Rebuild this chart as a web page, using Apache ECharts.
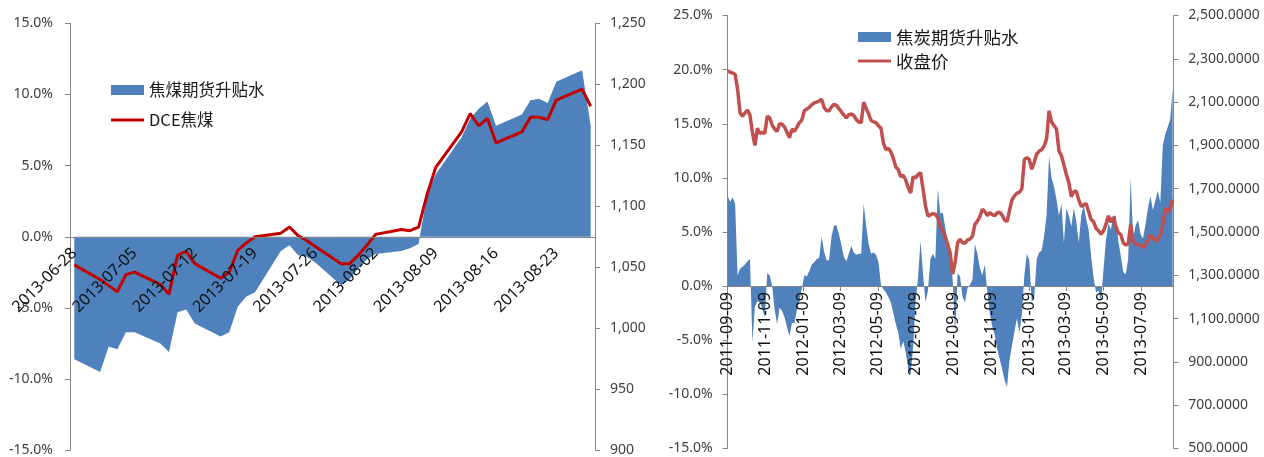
<!DOCTYPE html>
<html>
<head>
<meta charset="utf-8">
<script src="https://cdn.jsdelivr.net/npm/echarts@6/dist/echarts.min.js"></script>
<style>
  html, body { margin: 0; padding: 0; background: #ffffff; }
  #chart { width: 1264px; height: 457px; }
</style>
</head>
<body>
<div id="chart"></div>
<script>
// ---------- 焦煤: daily basis (%) and DCE price, trading days only ----------
const cokingCoalDates = [
  '2013-06-28',
  '2013-07-01', '2013-07-02', '2013-07-03', '2013-07-04', '2013-07-05',
  '2013-07-08', '2013-07-09', '2013-07-10', '2013-07-11', '2013-07-12',
  '2013-07-15', '2013-07-16', '2013-07-17', '2013-07-18', '2013-07-19',
  '2013-07-22', '2013-07-23', '2013-07-24', '2013-07-25', '2013-07-26',
  '2013-07-29', '2013-07-30', '2013-07-31', '2013-08-01', '2013-08-02',
  '2013-08-05', '2013-08-06', '2013-08-07', '2013-08-08', '2013-08-09',
  '2013-08-12', '2013-08-13', '2013-08-14', '2013-08-15', '2013-08-16',
  '2013-08-19', '2013-08-20', '2013-08-21', '2013-08-22', '2013-08-23',
  '2013-08-26', '2013-08-27'
];
const cokingCoalSpread = [
  -8.6,
  -9.5, -7.7, -7.9, -6.7, -6.7,
  -7.5, -8.1, -5.3, -5.1, -6.1,
  -7.0, -6.7, -4.9, -4.2, -3.9,
  -1.0, -0.6, -1.3, -1.4, -1.8,
  -3.4, -3.0, -2.2, -1.6, -1.2,
  -1.0, -0.8, -0.5, 3.0, 4.4,
  7.0, 8.3, 9.0, 9.5, 7.8,
  8.6, 9.6, 9.7, 9.4, 10.9,
  11.7, 7.8
];
const dceCokingCoal = [
  1052,
  1040, 1035, 1030, 1044, 1046,
  1036, 1028, 1060, 1063, 1053,
  1041, 1046, 1064, 1070, 1075,
  1078, 1083, 1076, 1072, 1067,
  1053, 1053, 1060, 1068, 1077,
  1081, 1080, 1083, 1110, 1132,
  1161, 1176, 1166, 1172, 1152,
  1161, 1173, 1173, 1171, 1187,
  1196, 1182
];

// ---------- 焦炭: basis (%) and close price, one value every 4 calendar days ----------
const COKE_START = '2011-09-09';
const COKE_END = '2013-08-30';
const COKE_STEP_DAYS = 4;
const cokeSpread = [
  8.3, 7.8, 8.2, 7.6, 1.0, 1.6, 1.8, 2.0, 2.3, 2.5,
  -5.2, -1.9, -1.4, -1.5, -2.1, -2.9, 1.2, 1.0, 0.0, -2.2,
  -3.5, -2.0, -2.3, -2.9, -3.8, -4.6, -3.4, -3.4, -2.2, -1.4,
  -0.2, 1.0, 0.9, 1.4, 2.0, 2.2, 2.5, 2.6, 4.6, 3.2,
  2.4, 2.4, 4.6, 5.6, 5.6, 4.8, 3.8, 2.7, 2.3, 3.0,
  3.7, 3.1, 2.9, 3.0, 3.0, 7.6, 5.6, 3.9, 3.0, 3.1,
  2.9, 2.2, 0.1, -0.3, -0.6, -1.0, -1.5, -2.5, -3.5, -4.3,
  -5.8, -5.1, -6.1, -7.6, -8.2, -5.7, -1.5, 0.8, 4.2, 1.2,
  -1.5, -0.4, 2.5, 3.0, 2.5, 9.0, 6.7, 6.8, 5.4, 4.1,
  2.9, 0.6, -4.5, 1.2, 0.9, -1.0, -1.5, -0.2, 0.1, 0.6,
  3.9, 3.0, 1.7, 1.0, 2.0, -0.5, -2.5, -3.7, -4.5, -5.8,
  -6.7, -7.6, -8.7, -9.3, -6.8, -5.5, -4.2, -3.0, -4.3, -2.6,
  1.0, 3.0, 2.4, -1.5, -1.0, 2.5, 3.1, 3.3, 4.6, 6.6,
  12.0, 10.0, 9.2, 8.0, 6.5, 7.6, 4.0, 7.2, 6.5, 5.5,
  7.2, 6.0, 4.0, 6.5, 7.5, 6.2, 5.2, 2.8, 0.8, -0.6,
  -0.4, -1.4, 1.5, 4.2, 5.8, 5.2, 6.5, 6.5, 4.2, 2.8,
  1.3, 1.1, 2.5, 10.0, 4.4, 5.6, 6.1, 4.8, 4.4, 5.7,
  7.2, 8.3, 7.0, 7.9, 8.8, 7.7, 13.0, 14.0, 14.7, 15.4, 18.3
];
const cokeClose = [
  2245, 2238, 2235, 2228, 2160, 2050, 2035, 2050, 2063, 2040,
  1960, 1900, 1979, 1955, 1960, 1955, 2035, 2028, 1994, 1975,
  1965, 2000, 1998, 1985, 1960, 1935, 1975, 1965, 1985, 2005,
  2017, 2060, 2068, 2075, 2088, 2096, 2100, 2105, 2113, 2075,
  2060, 2060, 2078, 2090, 2085, 2070, 2055, 2040, 2027, 2042,
  2045, 2038, 2020, 2008, 2005, 2100, 2070, 2046, 2015, 2009,
  2005, 1990, 1980, 1910, 1880, 1887, 1870, 1840, 1800, 1788,
  1756, 1762, 1740, 1705, 1680, 1755, 1750, 1765, 1775, 1700,
  1620, 1573, 1579, 1585, 1582, 1565, 1524, 1505, 1478, 1443,
  1402, 1305, 1360, 1450, 1466, 1450, 1448, 1463, 1467, 1480,
  1535, 1550, 1570, 1605, 1595, 1576, 1590, 1580, 1575, 1588,
  1592, 1578, 1555, 1548, 1600, 1648, 1667, 1679, 1683, 1700,
  1834, 1843, 1835, 1790, 1822, 1860, 1874, 1880, 1898, 1930,
  2060, 2008, 1992, 1975, 1875, 1852, 1810, 1765, 1728, 1663,
  1686, 1690, 1648, 1618, 1625, 1632, 1594, 1558, 1548, 1517,
  1505, 1490, 1505, 1535, 1575, 1545, 1568, 1526, 1497, 1488,
  1450, 1440, 1445, 1535, 1458, 1445, 1440, 1440, 1428, 1440,
  1462, 1486, 1475, 1460, 1465, 1488, 1530, 1610, 1590, 1610, 1650
];
const cokeTickDates = [
  '2011-09-09', '2011-11-09', '2012-01-09', '2012-03-09', '2012-05-09', '2012-07-09',
  '2012-09-09', '2012-11-09', '2013-01-09', '2013-03-09', '2013-05-09', '2013-07-09'
];
const cokePriceTicks = [500, 700, 900, 1100, 1300, 1500, 1700, 1900, 2100, 2300, 2500];

// ---------- helpers ----------
const DAY = 86400000;
function dayNumber(s) {
  const [y, m, d] = s.split('-').map(Number);
  return Date.UTC(y, m - 1, d) / DAY;
}
function dateString(n) {
  const t = new Date(n * DAY);
  const p = v => String(v).padStart(2, '0');
  return t.getUTCFullYear() + '-' + p(t.getUTCMonth() + 1) + '-' + p(t.getUTCDate());
}

// calendar-day category axis for 焦煤 (weekends stay empty and are bridged)
const ccFirst = dayNumber(cokingCoalDates[0]);
const ccLast = dayNumber(cokingCoalDates[cokingCoalDates.length - 1]);
const ccCalendar = [];
for (let n = ccFirst; n <= ccLast; n++) ccCalendar.push(dateString(n));
const ccIndex = {};
cokingCoalDates.forEach((d, i) => { ccIndex[d] = i; });
const ccSpreadCal = ccCalendar.map(d => d in ccIndex ? cokingCoalSpread[ccIndex[d]] : null);
const ccPriceCal = ccCalendar.map(d => d in ccIndex ? dceCokingCoal[ccIndex[d]] : null);

// day offsets for 焦炭
const cokeStartDay = dayNumber(COKE_START);
const cokeSpan = dayNumber(COKE_END) - cokeStartDay;
const cokeSpreadData = cokeSpread.map((v, i) => [i * COKE_STEP_DAYS, v]);
const cokeCloseData = cokeClose.map((v, i) => [i * COKE_STEP_DAYS, v]);
const cokeTickOffsets = cokeTickDates.map(d => dayNumber(d) - cokeStartDay);

const NUM_FONT = 'Noto Sans';
const CJK_FONT = 'Noto Sans CJK SC';
const AXIS_GRAY = '#868686';
const BLUE = '#4F81BD';

// plot boxes of the two panels
const LEFT_BOX = { left: 70, top: 23.3, width: 525, height: 427 };
const RIGHT_BOX = { left: 727.7, top: 15.5, width: 445.6, height: 433 };
const LEFT_PCT = { min: -15, max: 15 };
const RIGHT_PCT = { min: -15, max: 25 };

// the date axis sits on the 0% line: shift it up from the bottom edge by that distance
function zeroLineOffset(box, range) {
  return -box.height * (0 - range.min) / (range.max - range.min);
}

const pct = v => v.toFixed(1) + '%';

function valueAxis(extra) {
  return Object.assign({
    type: 'value',
    splitLine: { show: false },
    axisLine: { show: true, onZero: false, lineStyle: { color: AXIS_GRAY, width: 1 } },
    axisTick: { show: true, length: 5, lineStyle: { color: AXIS_GRAY } },
    axisLabel: { color: '#404040', fontFamily: NUM_FONT, fontSize: 14 }
  }, extra);
}

function legendItem(name, iconHeight, left, top, fontSize) {
  return {
    data: [{ name: name, icon: 'rect' }],
    left: left, top: top,
    orient: 'vertical',
    itemWidth: 33, itemHeight: iconHeight,
    selectedMode: false,
    padding: 0,
    textStyle: { fontFamily: CJK_FONT, fontSize: fontSize, lineHeight: 20, color: '#1a1a1a' }
  };
}

const chart = echarts.init(document.getElementById('chart'), null, { renderer: 'canvas' });

chart.setOption({
  animation: false,
  backgroundColor: '#ffffff',
  grid: [
    Object.assign({ containLabel: false, outerBoundsMode: 'none' }, LEFT_BOX),
    Object.assign({ containLabel: false, outerBoundsMode: 'none' }, RIGHT_BOX)
  ],
  legend: [
    legendItem('焦煤期货升贴水', 10, 111, 80, 16.5),
    legendItem('DCE焦煤', 3, 111, 110, 16.5),
    legendItem('焦炭期货升贴水', 10, 858, 27, 17.5),
    legendItem('收盘价', 3, 858, 51, 17.5)
  ],
  xAxis: [
    {
      type: 'category',
      gridIndex: 0,
      z: 10,
      position: 'bottom',
      offset: zeroLineOffset(LEFT_BOX, LEFT_PCT),
      data: ccCalendar,
      boundaryGap: true,
      axisLine: { onZero: false, lineStyle: { color: AXIS_GRAY } },
      axisTick: { interval: 6, length: 5, lineStyle: { color: AXIS_GRAY } },
      axisLabel: {
        interval: 6, rotate: 45, margin: 14,
        fontFamily: NUM_FONT, fontSize: 16, color: '#111111'
      },
      splitLine: { show: false }
    },
    {
      type: 'value',
      gridIndex: 1,
      z: 10,
      position: 'bottom',
      offset: zeroLineOffset(RIGHT_BOX, RIGHT_PCT),
      min: 0, max: cokeSpan,
      splitLine: { show: false },
      axisLine: { onZero: false, lineStyle: { color: AXIS_GRAY } },
      axisTick: { length: 5, customValues: cokeTickOffsets, lineStyle: { color: AXIS_GRAY } },
      axisLabel: {
        customValues: cokeTickOffsets,
        rotate: 90, margin: 6,
        fontFamily: NUM_FONT, fontSize: 16, color: '#111111',
        formatter: v => dateString(cokeStartDay + Math.round(v))
      }
    }
  ],
  yAxis: [
    valueAxis({
      gridIndex: 0, position: 'left', min: LEFT_PCT.min, max: LEFT_PCT.max, interval: 5,
      axisLabel: { formatter: pct, margin: 17, color: '#404040', fontFamily: NUM_FONT, fontSize: 14 }
    }),
    valueAxis({
      gridIndex: 0, position: 'right', min: 900, max: 1250, interval: 50,
      axisLabel: {
        formatter: v => v.toLocaleString('en-US'),
        margin: 15, color: '#404040', fontFamily: NUM_FONT, fontSize: 14
      }
    }),
    valueAxis({
      gridIndex: 1, position: 'left', min: RIGHT_PCT.min, max: RIGHT_PCT.max, interval: 5,
      axisLabel: { formatter: pct, margin: 15, color: '#404040', fontFamily: NUM_FONT, fontSize: 14 }
    }),
    valueAxis({
      gridIndex: 1, position: 'right', min: 500, max: 2500,
      axisTick: { show: true, length: 5, customValues: cokePriceTicks, lineStyle: { color: AXIS_GRAY } },
      axisLabel: {
        customValues: cokePriceTicks,
        formatter: v => v.toLocaleString('en-US', { minimumFractionDigits: 4, maximumFractionDigits: 4 }),
        margin: 15, color: '#404040', fontFamily: NUM_FONT, fontSize: 14
      }
    })
  ],
  series: [
    {
      name: '焦煤期货升贴水',
      type: 'line',
      xAxisIndex: 0, yAxisIndex: 0,
      data: ccSpreadCal,
      connectNulls: true,
      symbol: 'none',
      itemStyle: { color: BLUE },
      lineStyle: { width: 0, color: BLUE },
      areaStyle: { color: BLUE, opacity: 1 },
      z: 2
    },
    {
      name: 'DCE焦煤',
      type: 'line',
      xAxisIndex: 0, yAxisIndex: 1,
      data: ccPriceCal,
      connectNulls: true,
      symbol: 'none',
      itemStyle: { color: '#C00000' },
      lineStyle: { width: 3, color: '#C00000' },
      z: 3
    },
    {
      name: '焦炭期货升贴水',
      type: 'line',
      xAxisIndex: 1, yAxisIndex: 2,
      data: cokeSpreadData,
      symbol: 'none',
      itemStyle: { color: BLUE },
      lineStyle: { width: 0, color: BLUE },
      areaStyle: { color: BLUE, opacity: 1 },
      z: 2
    },
    {
      name: '收盘价',
      type: 'line',
      xAxisIndex: 1, yAxisIndex: 3,
      data: cokeCloseData,
      symbol: 'none',
      itemStyle: { color: '#C0504D' },
      lineStyle: { width: 3.5, color: '#C0504D' },
      z: 3
    }
  ]
});
</script>
</body>
</html>
